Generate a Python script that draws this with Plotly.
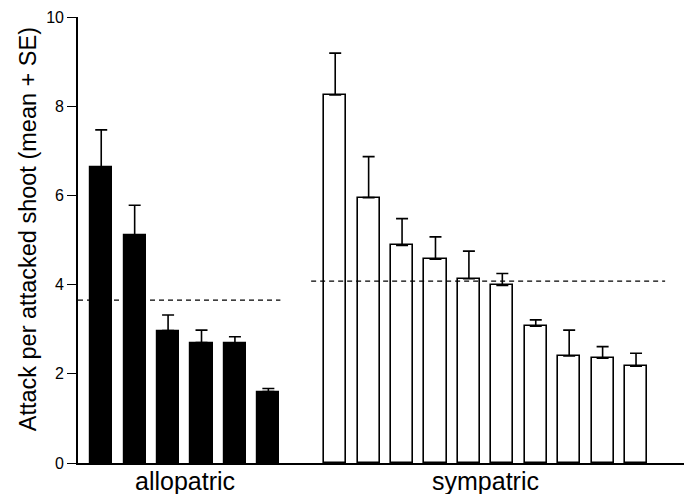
import plotly.graph_objects as go

# Data
allo_means = [6.64, 5.11, 2.97, 2.70, 2.68, 1.60]
allo_se = [0.83, 0.67, 0.35, 0.28, 0.15, 0.07]
symp_means = [8.25, 5.95, 4.88, 4.57, 4.13, 3.98, 3.07, 2.40, 2.35, 2.17]
symp_se = [0.94, 0.92, 0.60, 0.50, 0.62, 0.27, 0.14, 0.58, 0.26, 0.29]
allo_overall = 3.65
symp_overall = 4.08
group_labels = ["allopatric", "sympatric"]
y_ticks = [0, 2, 4, 6, 8, 10]
y_title = "Attack per attacked shoot (mean + SE)"

# positions derived from index (allopatric 1..6, gap, sympatric 8..17)
allo_x = list(range(1, len(allo_means) + 1))
symp_x = list(range(len(allo_means) + 2, len(allo_means) + 2 + len(symp_means)))

FONT = "Liberation Sans, Arial, sans-serif"
BAR_W = 0.66
X_RANGE = [0.305, 18.435]

fig = go.Figure()

fig.add_trace(go.Bar(
    x=allo_x, y=allo_means, width=BAR_W,
    marker=dict(color="black", line=dict(color="black", width=1.2)),
    error_y=dict(type="data", symmetric=False, array=allo_se,
                 arrayminus=[0] * len(allo_se), color="black",
                 thickness=1.6, width=6),
    showlegend=False,
))
fig.add_trace(go.Bar(
    x=symp_x, y=symp_means, width=BAR_W,
    marker=dict(color="white", line=dict(color="black", width=1.6)),
    error_y=dict(type="data", symmetric=False, array=symp_se,
                 arrayminus=[0] * len(symp_se), color="black",
                 thickness=1.6, width=6),
    showlegend=False,
))

# dashed group-mean lines
fig.add_trace(go.Scatter(
    x=[X_RANGE[0], allo_x[-1] + 0.36], y=[allo_overall, allo_overall],
    mode="lines", line=dict(color="black", width=1.3, dash="5px,4px"),
    showlegend=False, hoverinfo="skip", cliponaxis=False,
))
fig.add_trace(go.Scatter(
    x=[symp_x[0] - 0.72, symp_x[-1] + 0.87], y=[symp_overall, symp_overall],
    mode="lines", line=dict(color="black", width=1.3, dash="5px,4px"),
    showlegend=False, hoverinfo="skip", cliponaxis=False,
))

allo_center = (allo_x[0] + allo_x[-1]) / 2
symp_center = (symp_x[0] + symp_x[-1]) / 2

for cx, lab in zip([allo_center, symp_center], group_labels):
    fig.add_annotation(
        x=cx, y=0, xref="x", yref="y", text=lab, showarrow=False,
        yanchor="top", yshift=-2,
        font=dict(size=25, family=FONT, color="black"),
    )

fig.add_annotation(
    x=0, y=0.524, xref="paper", yref="paper", text=y_title,
    showarrow=False, textangle=-90, xanchor="center", yanchor="middle",
    xshift=-50, font=dict(size=23.5, family=FONT, color="black"),
)

fig.update_layout(
    width=684, height=494,
    margin=dict(l=78, r=0, t=17, b=31, autoexpand=False),
    paper_bgcolor="white", plot_bgcolor="white",
    font=dict(family=FONT, color="black"),
    bargap=0,
    xaxis=dict(
        range=X_RANGE, showgrid=False, zeroline=False, automargin=False,
        showline=True, linecolor="black", linewidth=1.6,
        showticklabels=False, ticks="",
    ),
    yaxis=dict(
        range=[0, 10], showgrid=False, zeroline=False, automargin=False,
        showline=True, linecolor="black", linewidth=1.6,
        tickmode="array", tickvals=y_ticks,
        ticks="outside", ticklen=9, tickwidth=1.3, tickcolor="black",
        tickfont=dict(size=16, family=FONT, color="black"),
    ),
)

fig.write_html(
    "out.html",
    config={"displayModeBar": False},
    post_script="document.body.style.margin='0';document.body.style.overflow='hidden';",
)
